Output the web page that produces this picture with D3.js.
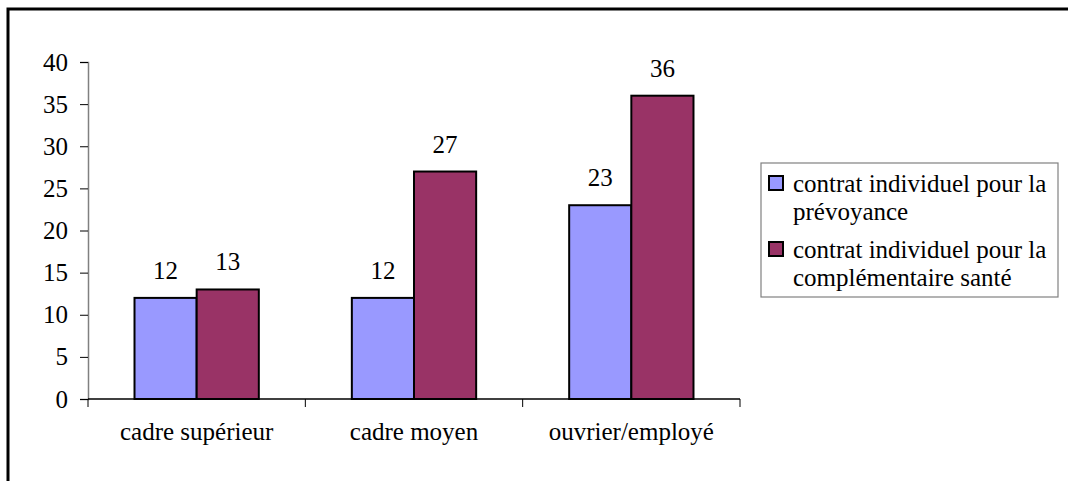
<!DOCTYPE html>
<html>
<head>
<meta charset="utf-8">
<script src="https://cdn.jsdelivr.net/npm/d3@7"></script>
<style>
  html, body { margin: 0; padding: 0; background: #fff; }
  svg { display: block; }
</style>
</head>
<body>
<svg id="chart" width="1068" height="481"></svg>
<script>
const categories = ["cadre supérieur", "cadre moyen", "ouvrier/employé"];
const seriesNames = [
  ["contrat individuel pour la", "prévoyance"],
  ["contrat individuel pour la", "complémentaire santé"]
];
const prevoyance = [12, 12, 23];
const complementaire = [13, 27, 36];
const yTicks = [0, 5, 10, 15, 20, 25, 30, 35, 40];
const colors = ["#9999FF", "#993366"];

const FONT = "'Liberation Serif', 'Times New Roman', serif";
const FS = "25px";
const series = [prevoyance, complementaire];
const svg = d3.select("#chart");

// outer frame
svg.append("rect")
  .attr("x", 8).attr("y", 9)
  .attr("width", 1100).attr("height", 500)
  .attr("fill", "none").attr("stroke", "#000").attr("stroke-width", 3);

const plot = { left: 88, right: 740, top: 62, bottom: 399 };

const x = d3.scaleBand().domain(categories).range([plot.left, plot.right]).padding(0);
const y = d3.scaleLinear().domain([0, 40]).range([plot.bottom, plot.top]);
const groupPad = 0.214;
const x1 = d3.scaleBand().domain([0, 1])
  .range([x.bandwidth() * groupPad, x.bandwidth() * (1 - groupPad)]).padding(0);

function label(sel) {
  return sel.style("font-family", FONT).style("font-size", FS).attr("fill", "#000");
}

// y axis
const yAxis = svg.append("g").attr("transform", `translate(${plot.left},0)`)
  .call(d3.axisLeft(y).tickValues(yTicks).tickSize(8).tickPadding(12));
yAxis.select(".domain").attr("stroke", "#808080").attr("stroke-width", 1.5);
yAxis.selectAll(".tick line").attr("stroke", "#000");
label(yAxis.selectAll(".tick text"));

// x axis
const xAxis = svg.append("g").attr("transform", `translate(0,${plot.bottom})`);
xAxis.append("line").attr("x1", plot.left).attr("x2", plot.right)
  .attr("stroke", "#000").attr("stroke-width", 1.5);
const bounds = categories.map(c => x(c)).concat([x(categories[categories.length - 1]) + x.bandwidth()]);
xAxis.selectAll("line.tick").data(bounds).enter().append("line")
  .attr("class", "tick")
  .attr("x1", d => d).attr("x2", d => d).attr("y1", 0).attr("y2", 8)
  .attr("stroke", "#000");
label(xAxis.selectAll("text.cat").data(categories).enter().append("text")
  .attr("class", "cat")
  .attr("x", d => x(d) + x.bandwidth() / 2).attr("y", 41)
  .attr("text-anchor", "middle")
  .text(d => d));

// bars with value labels
const groups = svg.selectAll("g.grp").data(categories).enter().append("g")
  .attr("class", "grp").attr("transform", d => `translate(${x(d)},0)`);
groups.each(function(cat, ci) {
  const g = d3.select(this);
  series.forEach((s, si) => {
    g.append("rect")
      .attr("x", x1(si)).attr("y", y(s[ci]))
      .attr("width", x1.bandwidth()).attr("height", y(0) - y(s[ci]))
      .attr("fill", colors[si]).attr("stroke", "#000").attr("stroke-width", 2);
    label(g.append("text")
      .attr("x", x1(si) + x1.bandwidth() / 2).attr("y", y(s[ci]) - 19)
      .attr("text-anchor", "middle")
      .text(s[ci]));
  });
});

// legend
const legend = svg.append("g");
legend.append("rect").attr("x", 761).attr("y", 163).attr("width", 297).attr("height", 134)
  .attr("fill", "#fff").attr("stroke", "#808080").attr("stroke-width", 1.2);
seriesNames.forEach((lines, i) => {
  const top = 176 + i * 66;
  legend.append("rect").attr("x", 769).attr("y", top).attr("width", 14).attr("height", 14)
    .attr("fill", colors[i]).attr("stroke", "#000").attr("stroke-width", 2);
  lines.forEach((ln, j) => {
    label(legend.append("text").attr("x", 793).attr("y", top + 16 + j * 28).text(ln));
  });
});
</script>
</body>
</html>
